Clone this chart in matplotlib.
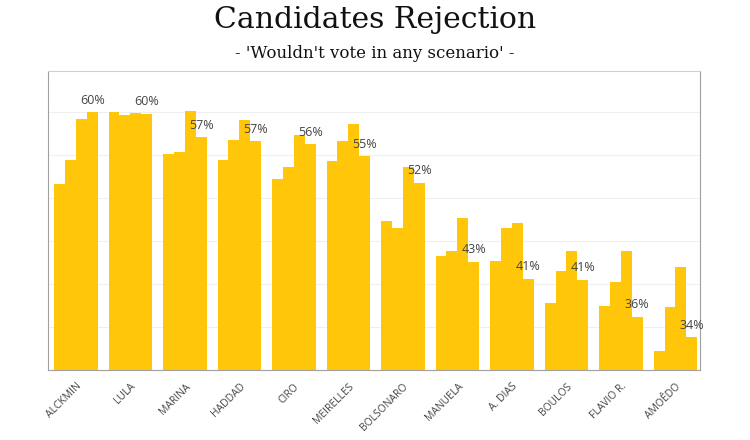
import numpy as np
import matplotlib
matplotlib.use("Agg")
import matplotlib.pyplot as plt

candidates = ["ALCKMIN", "LULA", "MARINA", "HADDAD", "CIRO", "MEIRELLES",
              "BOLSONARO", "MANUELA", "A. DIAS", "BOULOS", "FLAVIO R.", "AMOÊDO"]

# rejection (%) in four consecutive polls
poll1 = [51.7, 60.0, 55.1, 54.4, 52.2, 54.3, 47.4, 43.3, 42.7, 37.8, 37.4, 32.2]
poll2 = [54.4, 59.7, 55.4, 56.8, 53.6, 56.7, 46.5, 43.8, 46.5, 41.5, 40.2, 37.3]
poll3 = [59.2, 59.9, 60.1, 59.1, 57.4, 58.6, 53.6, 47.7, 47.1, 43.9, 43.8, 42.0]
poll4 = [60.0, 59.8, 57.1, 56.6, 56.3, 54.9, 51.8, 42.6, 40.6, 40.5, 36.2, 33.8]
last_labels = ["60%", "60%", "57%", "57%", "56%", "55%", "52%", "43%", "41%", "41%", "36%", "34%"]

bar_color = "#FFC60A"

fig = plt.figure(figsize=(7.5, 4.4), dpi=100)
ax = fig.add_axes([0.064, 0.159, 0.8693, 0.6796])

x = np.arange(len(candidates))
w = 0.2
polls = [poll1, poll2, poll3, poll4]
for k, vals in enumerate(polls):
    ax.bar(x + (k - 1.5) * w, vals, width=w, color=bar_color, zorder=2,
           linewidth=0)

for i, lab in enumerate(last_labels):
    ax.annotate(lab, (x[i] + 1.5 * w, poll4[i]), xytext=(0, 12),
                textcoords="offset pixels", ha="center", va="center",
                fontsize=9, color="#444444", family="Open Sans", zorder=3)

ax.set_xlim(-0.51, 11.45)
ax.set_ylim(30, 64.8)
ax.set_yticks([35, 40, 45, 50, 55, 60])
ax.yaxis.grid(True, color="#efefef", linewidth=0.8, zorder=0)
ax.tick_params(axis="y", left=False, labelleft=False)
ax.set_xticks(x)
ax.set_xticklabels(candidates, rotation=45, ha="right", rotation_mode="anchor",
                   fontsize=7.5, color="#444444", family="Open Sans")
ax.tick_params(axis="x", length=0, pad=8)

for s in ["left", "right", "bottom"]:
    ax.spines[s].set_color("#a0a0a0")
ax.spines["top"].set_color("#d0d0d0")

fig.text(0.5, 0.955, "Candidates Rejection", ha="center", va="center",
         fontsize=21.5, family="DejaVu Serif", color="#111111")
fig.text(0.5, 0.878, "- 'Wouldn't vote in any scenario' -", ha="center",
         va="center", fontsize=12, family="DejaVu Serif", color="#111111")

fig.savefig("out.png", dpi=100)
